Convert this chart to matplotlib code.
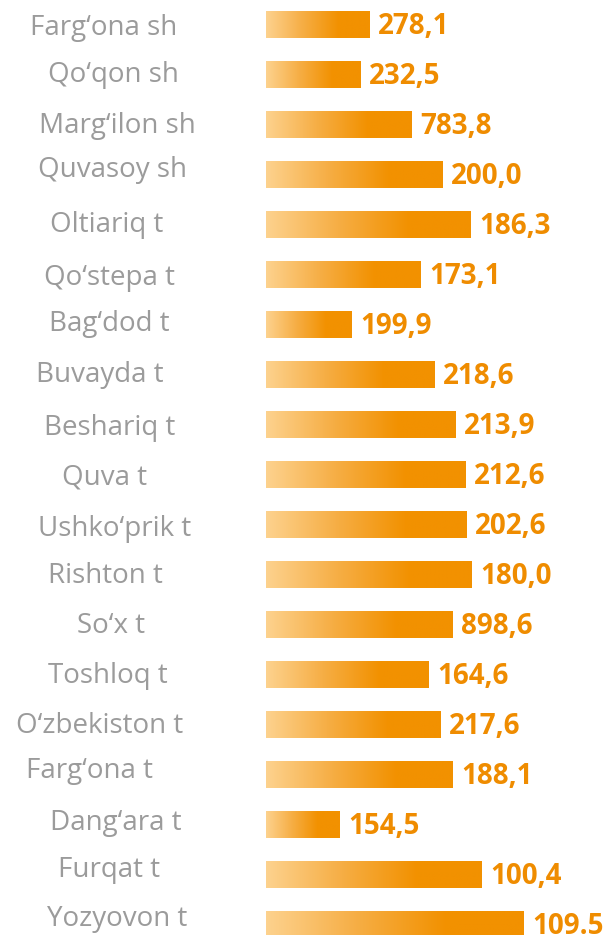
import numpy as np
import matplotlib.pyplot as plt
from matplotlib.colors import LinearSegmentedColormap

districts = ["Farg‘ona sh", "Qo‘qon sh", "Marg‘ilon sh", "Quvasoy sh", "Oltiariq t",
             "Qo‘stepa t", "Bag‘dod t", "Buvayda t", "Beshariq t", "Quva t",
             "Ushko‘prik t", "Rishton t", "So‘x t", "Toshloq t", "O‘zbekiston t",
             "Farg‘ona t", "Dang‘ara t", "Furqat t", "Yozyovon t"]
value_labels = ["278,1", "232,5", "783,8", "200,0", "186,3", "173,1", "199,9", "218,6",
                "213,9", "212,6", "202,6", "180,0", "898,6", "164,6", "217,6", "188,1",
                "154,5", "100,4", "109.5"]
# drawn bar lengths as they appear in the picture (not proportional to the labels)
bar_len = [104, 95, 146, 177, 205, 155, 86, 169, 190, 200, 201, 206, 187, 163, 175, 187, 74, 216, 258]

# the name boxes sit a bit unevenly in the original slide (pixel offsets)
name_x = [104, 113, 117, 113, 107, 109, 109, 100, 110, 105, 115, 105, 111, 108, 100, 89, 116, 109, 117]
name_dy = [10.6, 7.3, 8.3, 2.3, 7.9, 10.6, 6.6, 7.3, 10.6, 10.6, 11.6, 8.3, 8.3, 8.9, 8.3, 3.9, 5.6, 2.3, 1.6]

W, H = 609, 935
fig = plt.figure(figsize=(W / 100, H / 100), dpi=100)
ax = fig.add_axes([0, 0, 1, 1])
ax.axis('off')

cmap = LinearSegmentedColormap.from_list('og', [(0, '#FDD28E'), (0.35, '#F6AE45'), (0.7, '#F29100'), (1, '#F29100')])
grad = np.linspace(0, 1, 256).reshape(1, -1)
bh = 0.534

for i, (name, lab, L) in enumerate(zip(districts, value_labels, bar_len)):
    ax.imshow(grad, cmap=cmap, aspect='auto', extent=[0, L, i + bh / 2, i - bh / 2],
              interpolation='bilinear', zorder=2)
    ax.text(L + 8, i + 0.05, lab, color='#EF8C00', fontsize=20, fontweight='bold',
            family='Open Sans', ha='left', va='center')
    ax.text(name_x[i] - 266, i + name_dy[i] / 50, name, color='#9B9B9B', fontsize=20,
            family='Open Sans', ha='center', va='baseline')

ax.set_xlim(-266, W - 266)
ax.set_ylim((H - 24.4) / 50, -24.4 / 50)
fig.savefig('out.png', dpi=100)
